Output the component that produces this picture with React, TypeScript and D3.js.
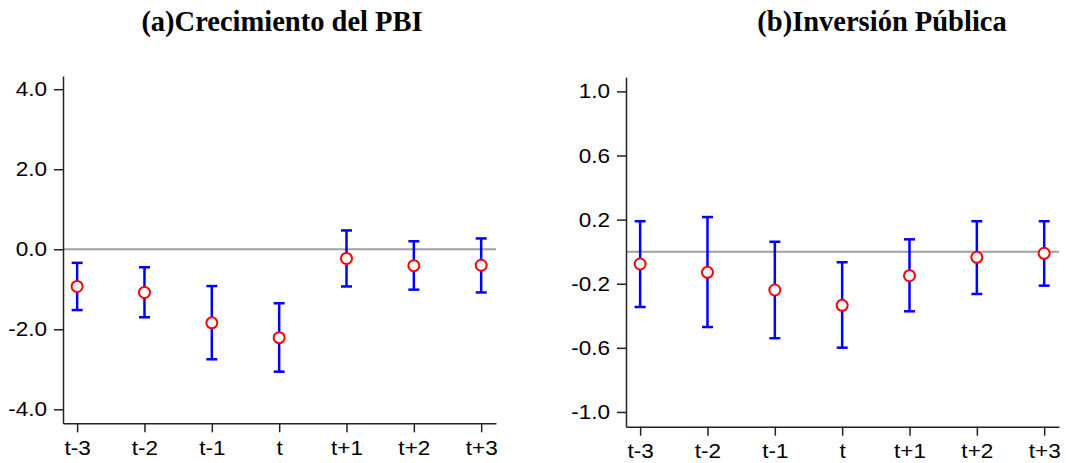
import { useEffect, useRef } from 'react'
import * as d3 from 'd3'

const periods = ['t-3', 't-2', 't-1', 't', 't+1', 't+2', 't+3']

// (a) Crecimiento del PBI
const pbiEstimate = [-0.93, -1.08, -1.84, -2.21, -0.23, -0.41, -0.4]
const pbiUpper = [-0.34, -0.45, -0.92, -1.35, 0.47, 0.2, 0.27]
const pbiLower = [-1.52, -1.7, -2.75, -3.06, -0.93, -1.01, -1.08]
const pbiTicks = [4, 2, 0, -2, -4]

// (b) Inversión Pública
const invEstimate = [-0.077, -0.129, -0.239, -0.335, -0.15, -0.035, -0.01]
const invUpper = [0.19, 0.216, 0.062, -0.066, 0.077, 0.19, 0.19]
const invLower = [-0.345, -0.47, -0.54, -0.599, -0.372, -0.264, -0.212]
const invTicks = [1.0, 0.6, 0.2, -0.2, -0.6, -1.0]

interface PanelSpec {
  title: string
  titleX: number
  left: number
  right: number
  top: number
  bottom: number
  yDomain: [number, number]
  ticks: number[]
  est: number[]
  hi: number[]
  lo: number[]
}

const panels: PanelSpec[] = [
  {
    title: '(a)Crecimiento del PBI',
    titleX: 282,
    left: 63,
    right: 496,
    top: 76,
    bottom: 423.3,
    yDomain: [-4.35, 4.33],
    ticks: pbiTicks,
    est: pbiEstimate,
    hi: pbiUpper,
    lo: pbiLower,
  },
  {
    title: '(b)Inversión Pública',
    titleX: 882,
    left: 626,
    right: 1059,
    top: 77.3,
    bottom: 426.7,
    yDomain: [-1.092, 1.088],
    ticks: invTicks,
    est: invEstimate,
    hi: invUpper,
    lo: invLower,
  },
]

// tick labels in the original are a slightly wide sans
const stretch = 1.1
const fmt = (d: any) => d3.format('.1f')(d).replace('\u2212', '-')

export default function App() {
  const svgRef = useRef<SVGSVGElement>(null)

  useEffect(() => {
    if (!svgRef.current) return
    const svg = d3.select(svgRef.current)
    svg.selectAll('*').remove()

    panels.forEach((p) => {
      const g = svg.append('g')

      const x = d3
        .scaleLinear()
        .domain([-3.21, 3.22])
        .range([p.left, p.right])
      const y = d3.scaleLinear().domain(p.yDomain).range([p.bottom, p.top])
      const xi = (i: number) => x(i - 3)

      // title
      g.append('text')
        .attr('x', p.titleX)
        .attr('y', 31)
        .attr('text-anchor', 'middle')
        .attr('font-family', '"Liberation Serif", "Times New Roman", serif')
        .attr('font-weight', 'bold')
        .attr('font-size', 28.5)
        .text(p.title)

      // zero line
      g.append('line')
        .attr('x1', p.left)
        .attr('x2', p.right)
        .attr('y1', y(0))
        .attr('y2', y(0))
        .attr('stroke', '#a0a0a0')
        .attr('stroke-width', 2)

      // y axis
      const yAxis = g
        .append('g')
        .attr('transform', `translate(${p.left},0)`)
        .call(
          d3
            .axisLeft(y)
            .tickValues(p.ticks)
            .tickFormat(fmt)
            .tickSize(9)
            .tickSizeOuter(0)
            .tickPadding(7)
        )

      // x axis
      const xAxis = g
        .append('g')
        .attr('transform', `translate(0,${p.bottom})`)
        .call(
          d3
            .axisBottom(x)
            .tickValues(d3.range(-3, 4))
            .tickFormat((d: any) => periods[+d + 3])
            .tickSize(9)
            .tickSizeOuter(0)
            .tickPadding(8)
        )

      ;[yAxis, xAxis].forEach((ax) => {
        ax.select('.domain').attr('stroke', '#222').attr('stroke-width', 1.5)
        ax.selectAll('.tick line').attr('stroke', '#222').attr('stroke-width', 1.5)
        ax.selectAll('.tick text')
          .attr('fill', '#000')
          .attr('font-family', '"Liberation Sans", Arial, sans-serif')
          .attr('font-size', 20.5)
          .attr('transform', `scale(${stretch},1)`)
      })
      yAxis.selectAll('.tick text').attr('x', -16 / stretch)

      // error bars
      const bars = g
        .selectAll('g.bar')
        .data(p.est)
        .enter()
        .append('g')
        .attr('class', 'bar')

      bars
        .append('line')
        .attr('x1', (_, i) => xi(i))
        .attr('x2', (_, i) => xi(i))
        .attr('y1', (_, i) => y(p.hi[i]))
        .attr('y2', (_, i) => y(p.lo[i]))
        .attr('stroke', '#0000ff')
        .attr('stroke-width', 2.5)

      ;[p.hi, p.lo].forEach((arr) => {
        bars
          .append('line')
          .attr('x1', (_, i) => xi(i) - 5.5)
          .attr('x2', (_, i) => xi(i) + 5.5)
          .attr('y1', (_, i) => y(arr[i]))
          .attr('y2', (_, i) => y(arr[i]))
          .attr('stroke', '#0000ff')
          .attr('stroke-width', 2.5)
      })

      bars
        .append('circle')
        .attr('cx', (_, i) => xi(i))
        .attr('cy', (d) => y(d))
        .attr('r', 5.5)
        .attr('fill', '#fff')
        .attr('stroke', '#ff0000')
        .attr('stroke-width', 2)
    })
  }, [])

  return (
    <svg
      ref={svgRef}
      width={1066}
      height={463}
      style={{ position: 'absolute', left: 0, top: 0, background: '#fff' }}
    />
  )
}
